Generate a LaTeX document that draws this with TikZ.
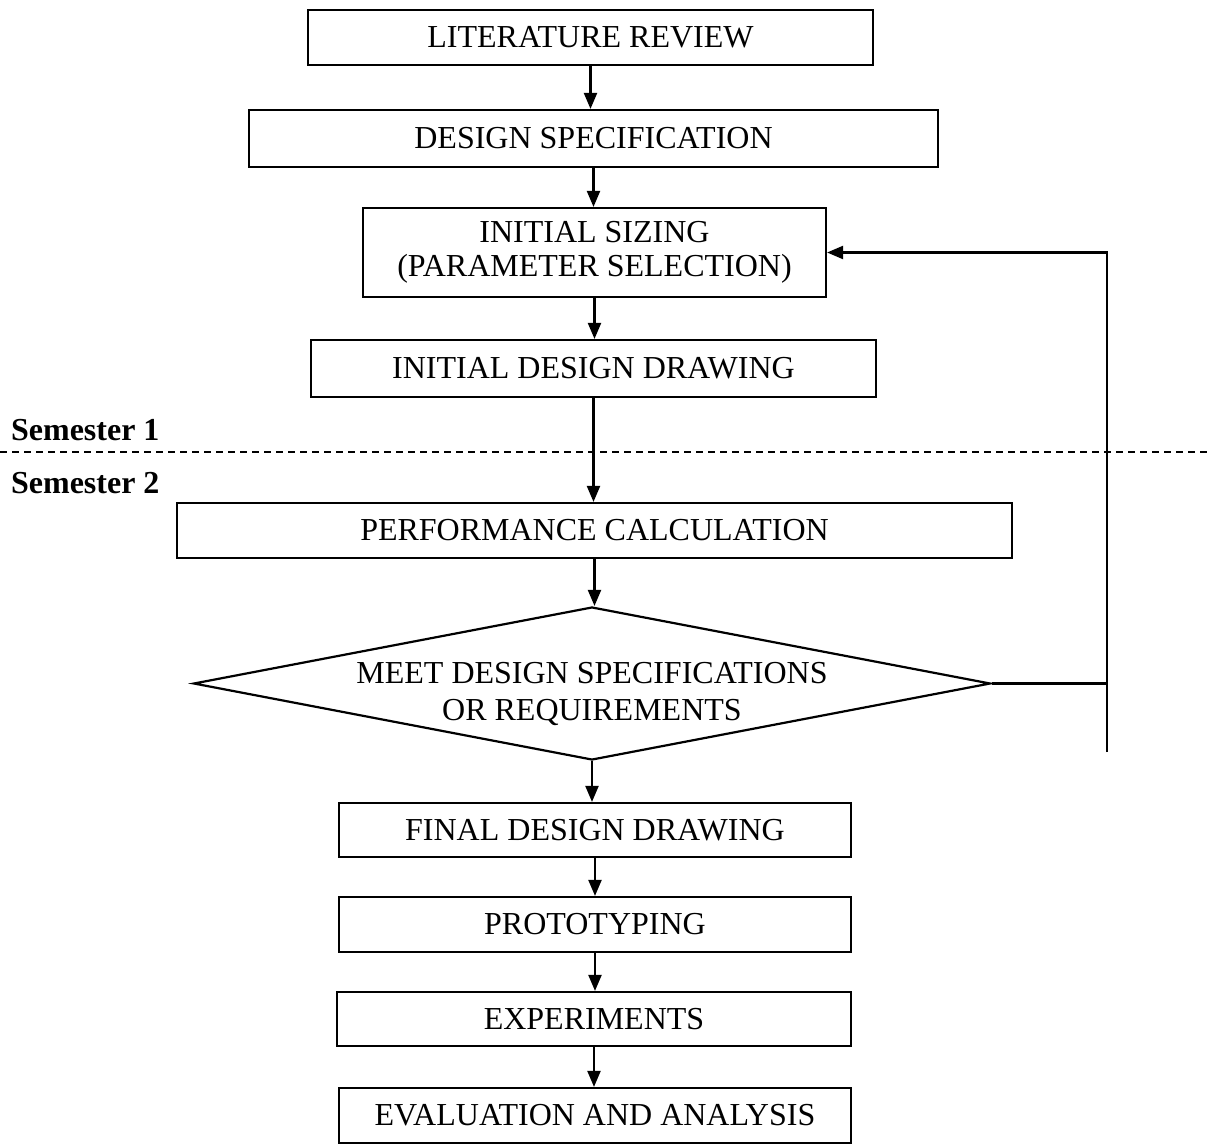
\documentclass[tikz,border=0pt]{standalone}
\usepackage{fontspec}
\setmainfont{Liberation Serif}
\usetikzlibrary{arrows.meta,positioning,shapes.geometric}

\begin{document}
\begin{tikzpicture}[x=1pt,y=-1pt,->,>={Triangle[length=16pt,width=13pt]},line width=2.2pt,
  box/.style={rectangle,draw,line width=2.2pt,inner sep=0pt,align=center,font=\fontsize{32}{34}\selectfont},
  decision/.style={diamond,draw,line width=2.2pt,inner xsep=0pt,inner ysep=-13pt,aspect=5.2,align=center,font=\fontsize{32}{37}\selectfont},
  semlabel/.style={anchor=west,inner sep=0pt,font=\bfseries\fontsize{32}{34}\selectfont}]
\useasboundingbox (0,0) rectangle (1207,1146);
\node[box,minimum width=565,minimum height=55] (lit) at (590.5,37.5) {LITERATURE REVIEW};
\node[box,minimum width=689,minimum height=57] (spec) at (593.5,138.5) {DESIGN SPECIFICATION};
\node[box,minimum width=463,minimum height=89] (sizing) at (594.5,252.5) {INITIAL SIZING\\(PARAMETER SELECTION)};
\node[box,minimum width=565,minimum height=57] (idd) at (593.5,368.5) {INITIAL DESIGN DRAWING};
\node[box,minimum width=835,minimum height=55] (perf) at (594.5,530.5) {PERFORMANCE CALCULATION};
\node[decision,minimum width=797,minimum height=153] (dec) at (592,683.5) {\rule{0pt}{43pt}MEET DESIGN SPECIFICATIONS\\OR REQUIREMENTS};
\node[box,minimum width=512,minimum height=54] (final) at (595,830) {FINAL DESIGN DRAWING};
\node[box,minimum width=512,minimum height=55] (proto) at (595,924.5) {PROTOTYPING};
\node[box,minimum width=514,minimum height=54] (exper) at (594,1019) {EXPERIMENTS};
\node[box,minimum width=512,minimum height=55] (eval) at (595,1115.5) {EVALUATION AND ANALYSIS};
\node[semlabel] (sem1) at (10,430) {Semester 1};
\node[semlabel] (sem2) at (10,483) {Semester 2};
\coordinate (dl) at (0,452);
\coordinate (dr) at (1207,452);
\coordinate (fbbot) at (1107,752);
\draw[-,line width=1.6pt,dash pattern=on 7pt off 5pt] (dl) -- (dr);
\foreach \a/\b in {lit/spec,spec/sizing,sizing/idd,idd/perf,perf/dec,dec/final,final/proto,proto/exper,exper/eval}
  \draw (\a.south) -- (\a.south |- \b.north);
\draw[-] (dec.east) -- (dec.east -| fbbot);
\draw (fbbot) |- (sizing.east);
\end{tikzpicture}
\end{document}
